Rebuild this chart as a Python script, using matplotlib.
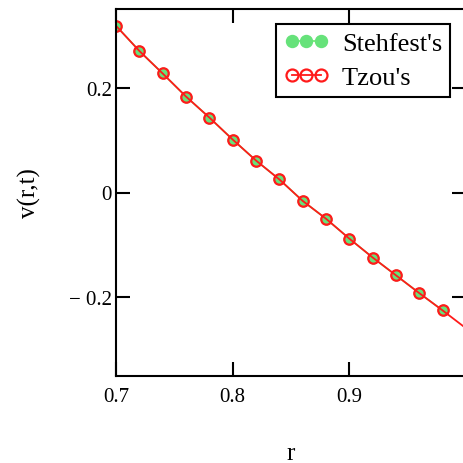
import matplotlib
matplotlib.use("Agg")
import matplotlib.pyplot as plt
from matplotlib.ticker import FuncFormatter

# Values
r_pts = [0.70, 0.72, 0.74, 0.76, 0.78, 0.80, 0.82, 0.84, 0.86, 0.88,
         0.90, 0.92, 0.94, 0.96, 0.98]
v_stehfest = [0.318, 0.270, 0.227, 0.183, 0.143, 0.101, 0.061, 0.025, -0.016, -0.050,
              -0.088, -0.124, -0.158, -0.192, -0.225]
r_tzou = r_pts + [1.00]
v_tzou = v_stehfest + [-0.259]

x_ticks = [0.7, 0.8, 0.9]
y_ticks = [-0.2, 0, 0.2]

plt.rcParams["font.family"] = ["Liberation Serif", "DejaVu Serif"]

fig = plt.figure(figsize=(4.64, 4.64), dpi=100)
ax = fig.add_axes([116 / 464, 1 - 377 / 464, 350 / 464, 367 / 464])

ax.plot(r_pts, v_stehfest, color="#66ee66", linewidth=1.2, marker="o",
        markersize=7.5, markerfacecolor="#66e27a", markeredgecolor="#66e27a",
        label="Stehfest's")
ax.plot(r_tzou, v_tzou, color="#ff1a1a", linewidth=1.3, marker="o",
        markersize=7.5, markerfacecolor="none", markeredgecolor="#ff1a1a",
        markeredgewidth=1.6, markevery=list(range(len(r_pts))), label="Tzou's")

ax.set_xlim(0.7, 1.0)
ax.set_ylim(-0.35, 0.35)
ax.set_xticks(x_ticks)
ax.set_yticks(y_ticks)


def fmt(v, pos):
    if abs(v) < 1e-9:
        return "0"
    s = f"{abs(v):g}"
    return ("\u2212 " + s) if v < 0 else s


ax.xaxis.set_major_formatter(FuncFormatter(fmt))
ax.yaxis.set_major_formatter(FuncFormatter(fmt))
ax.tick_params(direction="in", length=10, width=1.5, labelsize=15,
               top=True, right=True)
ax.tick_params(axis="x", pad=8)
ax.tick_params(axis="y", pad=3)
for sp in ax.spines.values():
    sp.set_linewidth(1.5)

ax.set_xlabel("r", fontsize=18, labelpad=26)
ax.set_ylabel("v(r,t)", fontsize=18, labelpad=20)

leg = ax.legend(loc="upper right", bbox_to_anchor=((450 - 116) / 350, 1 - 15 / 367),
                fontsize=19, numpoints=3, handlelength=1.7, handletextpad=0.5,
                borderpad=0.3, borderaxespad=0, labelspacing=0.38, fancybox=False,
                framealpha=1, edgecolor="black", markerscale=1.15)
leg.get_frame().set_linewidth(1.5)

fig.savefig("out.png", dpi=100, facecolor="white")
